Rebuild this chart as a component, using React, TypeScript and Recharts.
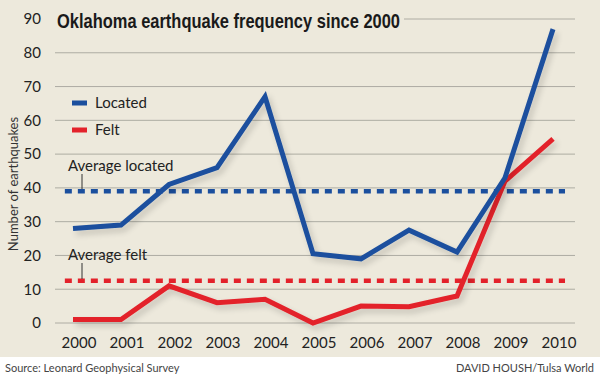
import { CartesianGrid, Line, LineChart, ReferenceLine, XAxis, YAxis } from "recharts";

const years = [2000, 2001, 2002, 2003, 2004, 2005, 2006, 2007, 2008, 2009, 2010];
const located = [28, 29, 41, 46, 67, 20.5, 19, 27.5, 21, 43, 87];
const felt = [1, 1, 11, 6, 7, 0, 5, 4.8, 8, 42, 54.5];
const yTicks = [0, 10, 20, 30, 40, 50, 60, 70, 80, 90];
const avgLocated = 39;
const avgFelt = 12.5;

const BLUE = "#1b4f9e";
const RED = "#e3222b";
const BEIGE = "#ede9dc";
const FONT = "Lato, 'Open Sans', sans-serif";

const data = years.map((year, i) => ({ year, located: located[i], felt: felt[i] }));

if (typeof document !== "undefined") document.body.style.margin = "0";

export default function App() {
  return (
    <div style={{ position: "relative", width: 600, height: 376, background: "#fff", fontFamily: FONT }}>
      <div style={{ position: "absolute", left: 0, top: 0, width: 600, height: 357, background: BEIGE }} />
      <svg width={0} height={0} style={{ position: "absolute" }}>
        <defs>
          <filter id="lineShadow" x="-10%" y="-10%" width="130%" height="130%">
            <feGaussianBlur in="SourceAlpha" stdDeviation="3" />
            <feOffset dx="3" dy="4" result="blur" />
            <feComponentTransfer>
              <feFuncA type="linear" slope="0.18" />
            </feComponentTransfer>
            <feMerge>
              <feMergeNode />
              <feMergeNode in="SourceGraphic" />
            </feMerge>
          </filter>
        </defs>
      </svg>
      <div style={{ position: "absolute", left: 0, top: 0 }}>
        <LineChart width={600} height={376} data={data} margin={{ top: 19, right: 25, bottom: 23, left: 0 }}>
          <CartesianGrid vertical={false} stroke="#aeaca3" strokeWidth={1} />
          <XAxis
            dataKey="year"
            type="number"
            domain={[1999.625, 2010.458]}
            ticks={years}
            interval={0}
            height={30}
            axisLine={false}
            tickLine={false}
            tickMargin={8}
            dx={6}
            tick={{ fill: "#222", fontSize: 15, fontFamily: FONT }}
          />
          <YAxis
            domain={[0, 90]}
            ticks={yTicks}
            width={55}
            axisLine={false}
            tickLine={false}
            tickMargin={8}
            tick={{ fill: "#222", fontSize: 15, fontFamily: FONT }}
          />
          <ReferenceLine
            segment={[{ x: 1999.83, y: avgLocated }, { x: 2010.25, y: avgLocated }]}
            stroke={BLUE}
            strokeWidth={4.5}
            strokeDasharray="7 6"
          />
          <ReferenceLine
            segment={[{ x: 1999.83, y: avgFelt }, { x: 2010.25, y: avgFelt }]}
            stroke={RED}
            strokeWidth={4.5}
            strokeDasharray="7 6"
          />
          <Line
            dataKey="felt"
            type="linear"
            stroke={RED}
            strokeWidth={5}
            dot={false}
            filter="url(#lineShadow)"
            isAnimationActive={false}
          />
          <Line
            dataKey="located"
            type="linear"
            stroke={BLUE}
            strokeWidth={5}
            dot={false}
            filter="url(#lineShadow)"
            isAnimationActive={false}
          />
        </LineChart>
      </div>
      <svg width={600} height={376} style={{ position: "absolute", left: 0, top: 0, pointerEvents: "none" }}>
        <rect x={54} y={8} width={350} height={24} fill={BEIGE} />
        <text
          x={57}
          y={28}
          fontFamily="'Liberation Sans Narrow', 'Arial Narrow', 'Liberation Sans', sans-serif"
          fontWeight="bold"
          fontSize={21}
          fill="#1a1a1a"
          textLength={343}
          lengthAdjust="spacingAndGlyphs"
        >
          Oklahoma earthquake frequency since 2000
        </text>
        <text
          transform="translate(18,184) rotate(-90)"
          textAnchor="middle"
          fontSize={13}
          fill="#333"
          fontFamily={FONT}
        >
          Number of earthquakes
        </text>
        <rect x={72} y={100.5} width={15} height={5} fill={BLUE} />
        <text x={95} y={108} fontSize={15} fill="#222" fontFamily={FONT}>Located</text>
        <rect x={72} y={127.5} width={15} height={5} fill={RED} />
        <text x={95} y={135} fontSize={15} fill="#222" fontFamily={FONT}>Felt</text>
        <text x={68} y={171} fontSize={15} fill="#222" fontFamily={FONT}>Average located</text>
        <line x1={82} y1={174} x2={82} y2={189} stroke="#333" strokeWidth={1} />
        <text x={68} y={260} fontSize={15} fill="#222" fontFamily={FONT}>Average felt</text>
        <line x1={82} y1={263} x2={82} y2={279} stroke="#333" strokeWidth={1} />
        <text x={5} y={372} fontSize={11} fill="#444" fontFamily={FONT}>Source: Leonard Geophysical Survey</text>
        <text x={594} y={372} textAnchor="end" fontSize={11} fill="#444" fontFamily={FONT}>DAVID HOUSH/Tulsa World</text>
      </svg>
    </div>
  );
}
